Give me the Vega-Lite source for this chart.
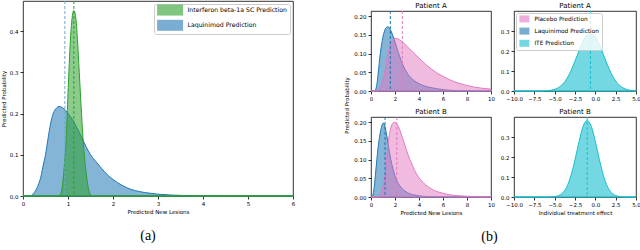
{
  "$schema": "https://vega.github.io/schema/vega-lite/v6.json",
  "background": "white",
  "padding": 0,
  "autosize": {"type": "pad"},
  "config": {
    "font": "DejaVu Sans",
    "view": {"stroke": "#000", "strokeWidth": 0.8},
    "axis": {"grid": false, "domain": false, "tickColor": "#000", "tickSize": 3, "tickWidth": 0.8, "labelFont": "DejaVu Sans", "labelFontSize": 5.5, "labelColor": "#000", "labelPadding": 2, "labelFlush": false, "labelOverlap": false, "titleFont": "DejaVu Sans", "titleFontSize": 5.5, "titleFontWeight": "normal", "titleColor": "#000", "titlePadding": 3},
    "title": {"font": "DejaVu Sans", "fontSize": 7, "fontWeight": "normal", "color": "#000", "offset": 2},
    "legend": {"labelFont": "DejaVu Sans", "labelColor": "#000"}
  },
  "datasets": {
    "aL": [{"x":0,"p":0},{"x":0.15,"p":0},{"x":0.2,"p":0.002},{"x":0.25,"p":0.008},{"x":0.3,"p":0.017},{"x":0.35,"p":0.03},{"x":0.4,"p":0.048},{"x":0.45,"p":0.075},{"x":0.5,"p":0.1},{"x":0.55,"p":0.135},{"x":0.6,"p":0.168},{"x":0.65,"p":0.193},{"x":0.7,"p":0.207},{"x":0.75,"p":0.214},{"x":0.8,"p":0.217},{"x":0.85,"p":0.216},{"x":0.9,"p":0.212},{"x":0.95,"p":0.207},{"x":1.0,"p":0.2},{"x":1.1,"p":0.185},{"x":1.2,"p":0.165},{"x":1.3,"p":0.143},{"x":1.4,"p":0.12},{"x":1.5,"p":0.1},{"x":1.6,"p":0.086},{"x":1.7,"p":0.073},{"x":1.8,"p":0.06},{"x":1.9,"p":0.049},{"x":2.0,"p":0.04},{"x":2.2,"p":0.026},{"x":2.4,"p":0.016},{"x":2.6,"p":0.0105},{"x":2.8,"p":0.007},{"x":3.0,"p":0.0045},{"x":3.3,"p":0.0022},{"x":3.6,"p":0.0011},{"x":4.0,"p":0.0005},{"x":4.5,"p":0.0002},{"x":5,"p":0.0001},{"x":6,"p":0}],
    "aI": [{"x":0,"p":0},{"x":0.8,"p":0},{"x":0.84,"p":0.005},{"x":0.87,"p":0.02},{"x":0.9,"p":0.05},{"x":0.93,"p":0.09},{"x":0.96,"p":0.14},{"x":1.0,"p":0.25},{"x":1.04,"p":0.35},{"x":1.08,"p":0.42},{"x":1.13,"p":0.45},{"x":1.17,"p":0.435},{"x":1.21,"p":0.38},{"x":1.25,"p":0.3},{"x":1.29,"p":0.22},{"x":1.33,"p":0.145},{"x":1.37,"p":0.09},{"x":1.41,"p":0.05},{"x":1.45,"p":0.02},{"x":1.49,"p":0.005},{"x":1.55,"p":0},{"x":6,"p":0}],
    "AL": [{"x":0,"p":0},{"x":0.3,"p":0},{"x":0.4,"p":0.005},{"x":0.5,"p":0.02},{"x":0.6,"p":0.048},{"x":0.75,"p":0.094},{"x":0.9,"p":0.128},{"x":1.05,"p":0.152},{"x":1.2,"p":0.166},{"x":1.39,"p":0.172},{"x":1.55,"p":0.168},{"x":1.7,"p":0.158},{"x":1.86,"p":0.145},{"x":2.0,"p":0.131},{"x":2.28,"p":0.103},{"x":2.55,"p":0.078},{"x":2.83,"p":0.058},{"x":3.2,"p":0.04},{"x":3.67,"p":0.026},{"x":4.1,"p":0.018},{"x":4.5,"p":0.013},{"x":5.0,"p":0.009},{"x":5.6,"p":0.0055},{"x":6.2,"p":0.003},{"x":6.7,"p":0.0018},{"x":7.5,"p":0.0008},{"x":8.5,"p":0.0003},{"x":10,"p":0}],
    "AP": [{"x":0,"p":0},{"x":0.5,"p":0},{"x":0.7,"p":0.005},{"x":0.9,"p":0.02},{"x":1.05,"p":0.035},{"x":1.17,"p":0.055},{"x":1.3,"p":0.08},{"x":1.44,"p":0.103},{"x":1.58,"p":0.12},{"x":1.72,"p":0.131},{"x":1.86,"p":0.138},{"x":2.0,"p":0.141},{"x":2.2,"p":0.14},{"x":2.5,"p":0.134},{"x":2.83,"p":0.125},{"x":3.2,"p":0.113},{"x":3.67,"p":0.098},{"x":4.2,"p":0.082},{"x":4.6,"p":0.07},{"x":5.06,"p":0.058},{"x":5.5,"p":0.048},{"x":6.0,"p":0.039},{"x":6.44,"p":0.032},{"x":7.0,"p":0.024},{"x":7.5,"p":0.019},{"x":7.83,"p":0.016},{"x":8.5,"p":0.011},{"x":9.22,"p":0.0075},{"x":10,"p":0.005}],
    "BL": [{"x":0,"p":0},{"x":0.1,"p":0},{"x":0.2,"p":0.012},{"x":0.3,"p":0.035},{"x":0.4,"p":0.07},{"x":0.47,"p":0.094},{"x":0.6,"p":0.135},{"x":0.75,"p":0.168},{"x":0.9,"p":0.19},{"x":1.03,"p":0.198},{"x":1.15,"p":0.19},{"x":1.31,"p":0.165},{"x":1.45,"p":0.138},{"x":1.58,"p":0.112},{"x":1.72,"p":0.09},{"x":1.86,"p":0.072},{"x":2.05,"p":0.052},{"x":2.28,"p":0.036},{"x":2.55,"p":0.024},{"x":2.83,"p":0.016},{"x":3.2,"p":0.009},{"x":3.67,"p":0.005},{"x":4.3,"p":0.002},{"x":5,"p":0.001},{"x":6,"p":0.0003},{"x":10,"p":0}],
    "BP": [{"x":0,"p":0},{"x":0.6,"p":0},{"x":0.8,"p":0.008},{"x":1.0,"p":0.027},{"x":1.17,"p":0.058},{"x":1.3,"p":0.1},{"x":1.44,"p":0.147},{"x":1.55,"p":0.17},{"x":1.67,"p":0.187},{"x":1.8,"p":0.197},{"x":1.94,"p":0.2},{"x":2.1,"p":0.197},{"x":2.25,"p":0.19},{"x":2.42,"p":0.178},{"x":2.6,"p":0.16},{"x":2.83,"p":0.138},{"x":3.1,"p":0.112},{"x":3.39,"p":0.089},{"x":3.65,"p":0.07},{"x":3.94,"p":0.054},{"x":4.3,"p":0.04},{"x":4.78,"p":0.027},{"x":5.3,"p":0.017},{"x":5.89,"p":0.011},{"x":6.5,"p":0.006},{"x":7.28,"p":0.0035},{"x":8,"p":0.002},{"x":9,"p":0.001},{"x":10,"p":0.0005}],
    "iA": [{"x":-10,"p":0},{"x":-7,"p":0.0002},{"x":-6,"p":0.0014},{"x":-5,"p":0.0083},{"x":-4.5,"p":0.0178},{"x":-4,"p":0.0347},{"x":-3.5,"p":0.0619},{"x":-3,"p":0.1007},{"x":-2.5,"p":0.1494},{"x":-2,"p":0.2024},{"x":-1.5,"p":0.25},{"x":-1,"p":0.2816},{"x":-0.6,"p":0.29},{"x":0,"p":0.2715},{"x":0.5,"p":0.2322},{"x":1,"p":0.1812},{"x":1.5,"p":0.129},{"x":2,"p":0.0838},{"x":2.5,"p":0.0497},{"x":3,"p":0.0269},{"x":3.5,"p":0.0132},{"x":4,"p":0.0059},{"x":4.5,"p":0.0024},{"x":5,"p":0.0009}],
    "iB": [{"x":-10,"p":0},{"x":-6,"p":0.0001},{"x":-5,"p":0.0023},{"x":-4.5,"p":0.0076},{"x":-4,"p":0.0215},{"x":-3.5,"p":0.0518},{"x":-3,"p":0.1065},{"x":-2.5,"p":0.1864},{"x":-2,"p":0.278},{"x":-1.5,"p":0.3536},{"x":-1,"p":0.383},{"x":-0.5,"p":0.3536},{"x":0,"p":0.278},{"x":0.5,"p":0.1864},{"x":1,"p":0.1065},{"x":1.5,"p":0.0518},{"x":2,"p":0.0215},{"x":2.5,"p":0.0076},{"x":3,"p":0.0023},{"x":4,"p":0.0001},{"x":5,"p":0}]
  },
  "hconcat": [
    {
      "width": 270,
      "height": 195,
      "title": {"text": "(a)", "orient": "bottom", "font": "Liberation Serif", "fontSize": 14, "fontWeight": "normal", "offset": 14, "dx": -10},
      "encoding": {
        "x": {"field": "x", "type": "quantitative", "scale": {"domain": [0, 6], "nice": false, "zero": false}, "axis": {"values": [0, 1, 2, 3, 4, 5, 6], "format": "d", "title": "Predicted New Lesions"}},
        "y": {"field": "p", "type": "quantitative", "scale": {"domain": [0, 0.473], "nice": false}, "axis": {"values": [0, 0.1, 0.2, 0.3, 0.4], "format": ".1f", "title": "Predicted Probability"}}
      },
      "layer": [
        {
          "data": {"name": "aL"},
          "mark": {"type": "area", "interpolate": "monotone", "fillOpacity": 0.55, "stroke": "#1f77b4", "strokeWidth": 1},
          "encoding": {
            "fill": {"datum": "Laquinimod Prediction", "type": "nominal", "scale": {"domain": ["Interferon beta-1a SC Prediction", "Laquinimod Prediction"], "range": ["#2ca02c", "#1f77b4"]}, "legend": {"title": null, "orient": "top-right", "offset": 3, "fillColor": "rgba(255,255,255,0.8)", "strokeColor": "#cccccc", "padding": 3, "cornerRadius": 2, "symbolType": "M-1,-1.833H7.667V1.833H-1Z", "symbolSize": 36, "symbolStrokeWidth": 0, "symbolOpacity": 0.6, "labelFontSize": 6.2, "rowPadding": 3.2, "labelOffset": 24.3, "labelLimit": 300}}
          }
        },
        {
          "data": {"name": "aI"},
          "mark": {"type": "area", "interpolate": "monotone", "fillOpacity": 0.55, "stroke": "#2ca02c", "strokeWidth": 1},
          "encoding": {
            "fill": {"datum": "Interferon beta-1a SC Prediction", "type": "nominal"}
          }
        },
        {
          "data": {"values": [{"x": 0.93}]},
          "mark": {"type": "rule", "strokeDash": [3, 2], "strokeWidth": 1, "color": "#6fa6d2"},
          "encoding": {"x": {"field": "x", "type": "quantitative"}, "y": null}
        },
        {
          "data": {"values": [{"x": 1.13}]},
          "mark": {"type": "rule", "strokeDash": [3, 2], "strokeWidth": 1, "color": "#2ca02c"},
          "encoding": {"x": {"field": "x", "type": "quantitative"}, "y": null}
        }
      ]
    },
    {
      "spacing": 9,
      "bounds": "flush",
      "title": {"text": "(b)", "orient": "bottom", "font": "Liberation Serif", "fontSize": 14, "fontWeight": "normal", "offset": 14, "dx": 137},
      "resolve": {"scale": {"x": "independent", "y": "independent", "fill": "independent"}, "legend": {"fill": "independent"}},
      "vconcat": [
        {
          "width": 120,
          "height": 1,
          "view": {"stroke": null},
          "data": {"values": []},
          "mark": "rule",
          "encoding": {}
        },
        {
          "columns": 2,
          "spacing": {"row": 26, "column": 23},
          "bounds": "flush",
          "resolve": {"scale": {"x": "independent", "y": "independent", "fill": "independent"}, "legend": {"fill": "independent"}},
          "concat": [
            {
              "width": 120,
              "height": 80,
              "title": "Patient A",
              "encoding": {
                "x": {"field": "x", "type": "quantitative", "scale": {"domain": [0, 10], "nice": false, "zero": false}, "axis": {"values": [0, 2, 4, 6, 8, 10], "format": "d", "title": null}},
                "y": {"field": "p", "type": "quantitative", "scale": {"domain": [0, 0.214], "nice": false}, "axis": {"values": [0, 0.05, 0.1, 0.15, 0.2], "format": ".2f", "title": "Predicted Probability", "titleY": 94, "titlePadding": 4}}
              },
              "layer": [
                {
                  "data": {"name": "AL"},
                  "mark": {"type": "area", "interpolate": "monotone", "fillOpacity": 0.55, "fill": "#1f77b4", "stroke": "#1f77b4", "strokeWidth": 1},
                  "encoding": {}
                },
                {
                  "data": {"name": "AP"},
                  "mark": {"type": "area", "interpolate": "monotone", "fillOpacity": 0.5, "fill": "#e377c2", "stroke": "#e377c2", "strokeWidth": 1},
                  "encoding": {}
                },
                {
                  "data": {"values": [{"x": 1.61}]},
                  "mark": {"type": "rule", "strokeDash": [3, 2], "strokeWidth": 1, "color": "#1f77b4"},
                  "encoding": {"x": {"field": "x", "type": "quantitative"}, "y": null}
                },
                {
                  "data": {"values": [{"x": 2.61}]},
                  "mark": {"type": "rule", "strokeDash": [3, 2], "strokeWidth": 1, "color": "#e377c2"},
                  "encoding": {"x": {"field": "x", "type": "quantitative"}, "y": null}
                }
              ]
            },
            {
              "width": 122,
              "height": 80,
              "title": "Patient A",
              "encoding": {
                "x": {"field": "x", "type": "quantitative", "scale": {"domain": [-10, 5], "nice": false, "zero": false}, "axis": {"values": [-10, -7.5, -5, -2.5, 0, 2.5, 5], "format": ".1f", "title": null}},
                "y": {"field": "p", "type": "quantitative", "scale": {"domain": [0, 0.4], "nice": false}, "axis": {"values": [0, 0.1, 0.2, 0.3], "format": ".1f", "title": null}}
              },
              "layer": [
                {
                  "data": {"name": "iA"},
                  "mark": {"type": "area", "interpolate": "monotone", "fillOpacity": 0.6, "stroke": "#17becf", "strokeWidth": 1},
                  "encoding": {
                    "fill": {"datum": "ITE Prediction", "type": "nominal", "scale": {"domain": ["Placebo Prediction", "Laquinimod Prediction", "ITE Prediction"], "range": ["#e377c2", "#1f77b4", "#17becf"]}, "legend": {"title": null, "orient": "top-left", "offset": 2, "fillColor": "rgba(255,255,255,0.8)", "strokeColor": "#cccccc", "padding": 3, "cornerRadius": 2, "symbolType": "M-1,-1.4H3V1.4H-1Z", "symbolSize": 25, "symbolStrokeWidth": 0, "symbolOpacity": 0.6, "labelFontSize": 5.8, "rowPadding": 4.2, "labelOffset": 9.6, "labelLimit": 300}}
                  }
                },
                {
                  "data": {"values": [{"x": -0.6}]},
                  "mark": {"type": "rule", "strokeDash": [3, 2], "strokeWidth": 1, "color": "#17becf"},
                  "encoding": {"x": {"field": "x", "type": "quantitative"}, "y": null}
                }
              ]
            },
            {
              "width": 120,
              "height": 80,
              "title": "Patient B",
              "encoding": {
                "x": {"field": "x", "type": "quantitative", "scale": {"domain": [0, 10], "nice": false, "zero": false}, "axis": {"values": [0, 2, 4, 6, 8, 10], "format": "d", "title": "Predicted New Lesions"}},
                "y": {"field": "p", "type": "quantitative", "scale": {"domain": [0, 0.214], "nice": false}, "axis": {"values": [0, 0.05, 0.1, 0.15, 0.2], "format": ".2f", "title": null}}
              },
              "layer": [
                {
                  "data": {"name": "BL"},
                  "mark": {"type": "area", "interpolate": "monotone", "fillOpacity": 0.55, "fill": "#1f77b4", "stroke": "#1f77b4", "strokeWidth": 1},
                  "encoding": {}
                },
                {
                  "data": {"name": "BP"},
                  "mark": {"type": "area", "interpolate": "monotone", "fillOpacity": 0.5, "fill": "#e377c2", "stroke": "#e377c2", "strokeWidth": 1},
                  "encoding": {}
                },
                {
                  "data": {"values": [{"x": 1.17}]},
                  "mark": {"type": "rule", "strokeDash": [3, 2], "strokeWidth": 1, "color": "#1f77b4"},
                  "encoding": {"x": {"field": "x", "type": "quantitative"}, "y": null}
                },
                {
                  "data": {"values": [{"x": 2.15}]},
                  "mark": {"type": "rule", "strokeDash": [3, 2], "strokeWidth": 1, "color": "#e377c2"},
                  "encoding": {"x": {"field": "x", "type": "quantitative"}, "y": null}
                }
              ]
            },
            {
              "width": 122,
              "height": 80,
              "title": "Patient B",
              "encoding": {
                "x": {"field": "x", "type": "quantitative", "scale": {"domain": [-10, 5], "nice": false, "zero": false}, "axis": {"values": [-10, -7.5, -5, -2.5, 0, 2.5, 5], "format": ".1f", "title": "Individual treatment effect"}},
                "y": {"field": "p", "type": "quantitative", "scale": {"domain": [0, 0.4], "nice": false}, "axis": {"values": [0, 0.1, 0.2, 0.3], "format": ".1f", "title": null}}
              },
              "layer": [
                {
                  "data": {"name": "iB"},
                  "mark": {"type": "area", "interpolate": "monotone", "fillOpacity": 0.6, "fill": "#17becf", "stroke": "#17becf", "strokeWidth": 1},
                  "encoding": {}
                },
                {
                  "data": {"values": [{"x": -1.0}]},
                  "mark": {"type": "rule", "strokeDash": [3, 2], "strokeWidth": 1, "color": "#17becf"},
                  "encoding": {"x": {"field": "x", "type": "quantitative"}, "y": null}
                }
              ]
            }
          ]
        }
      ]
    }
  ],
  "spacing": 78,
  "bounds": "flush",
  "resolve": {"scale": {"x": "independent", "y": "independent", "fill": "independent"}, "legend": {"fill": "independent"}}
}
